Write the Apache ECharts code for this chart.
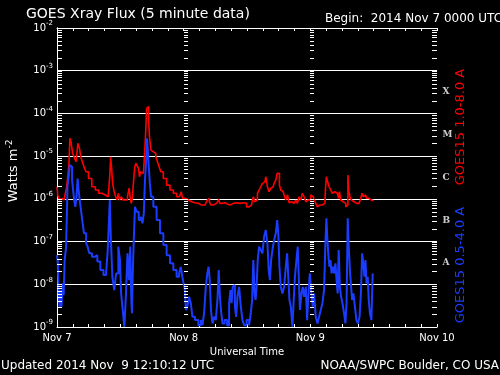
<!DOCTYPE html>
<html><head><meta charset="utf-8">
<script src="https://cdn.jsdelivr.net/npm/echarts@6/dist/echarts.min.js"></script>
<style>html,body{margin:0;padding:0;background:#000;}#c{width:500px;height:375px;}</style>
</head><body><div id="c"></div>
<script>
// Hours since 2014 Nov 7 00:00 UTC
const dayLabels = ['Nov 7', 'Nov 8', 'Nov 9', 'Nov 10'];

// GOES15 1.0-8.0 A (long channel), W/m^2
const redHours = [
  0,0.28,0.57,0.95,1.33,1.7,1.89,2.14,2.37,2.52,
  2.78,3.16,3.47,3.79,4.11,4.41,4.74,5.06,5.36,5.68,
  6.25,6.95,7.58,8.2,8.85,9.47,9.91,10.1,10.23,10.42,
  10.66,10.99,11.27,11.5,11.74,11.99,12.31,12.69,13.2,13.5,
  13.83,14.02,14.15,14.4,14.64,14.83,15.1,15.34,15.53,15.72,
  15.97,16.35,16.67,16.86,17.1,17.29,17.43,17.62,17.94,18.24,
  18.56,18.88,19.19,19.51,19.83,20.46,21.08,21.73,22.35,22.98,
  23.39,23.68,23.92,24.57,25.19,25.82,26.46,27.09,27.71,28.36,
  28.6,28.79,28.98,29.3,29.93,30.55,30.74,30.93,31.5,32.14,
  32.45,33.09,33.72,34.35,34.99,35.61,36.24,36.56,36.88,37.13,
  37.32,37.56,37.82,38.13,38.45,38.77,39.07,39.4,39.72,40.02,
  40.34,40.66,40.97,41.29,41.62,41.81,42.05,42.24,42.56,42.87,
  43.19,43.51,43.82,44.14,44.46,44.76,45.08,45.4,45.71,46.03,
  46.35,46.65,46.98,47.3,47.61,47.93,48.24,48.55,48.87,49.19,
  49.5,49.82,50.14,50.44,50.76,50.95,51.14,51.4,51.71,52.03,
  52.34,52.66,52.98,53.28,53.4,53.61,53.93,54.23,54.55,54.88,
  55.06,55.18,55.37,55.63,55.94,56.31,56.77,57.2,57.72,57.91,
  58.16,58.48,58.78,59.1,59.42,59.72,59.91,60.04
];
const redFlux = [
  1.92e-6,1.23e-6,9.4e-7,1.03e-6,9.4e-7,1.23e-6,1.79e-6,3.0e-6,6.2e-6,2.61e-5,
  2.17e-5,1.16e-5,8.9e-6,7.4e-6,2.0e-5,1.52e-5,8.9e-6,6.8e-6,5.2e-6,4.3e-6,
  3.0e-6,1.92e-6,1.61e-6,1.35e-6,1.23e-6,1.12e-6,1.03e-6,3.6e-6,9.7e-6,5.65e-6,
  2.3e-6,1.47e-6,1.12e-6,9.4e-7,1.35e-6,9.4e-7,1.12e-6,9.4e-7,9.4e-7,1.12e-6,
  1.79e-6,9.4e-7,7.85e-7,1.03e-6,2.75e-6,5.65e-6,6.8e-6,6.8e-6,5.2e-6,3.3e-6,
  4.3e-6,3.95e-6,7.4e-6,2.84e-5,1.32e-4,1.44e-4,7.0e-5,2.84e-5,1.39e-5,1.27e-5,
  1.16e-5,9.7e-6,7.4e-6,5.65e-6,4.3e-6,3.0e-6,2.1e-6,1.61e-6,1.35e-6,1.12e-6,
  1.23e-6,1.47e-6,1.03e-6,9.4e-7,8.55e-7,8.1e-7,7.85e-7,7.2e-7,7.2e-7,7.85e-7,
  9.4e-7,1.03e-6,8.55e-7,7.2e-7,7.85e-7,7.85e-7,9.7e-7,7.85e-7,8.1e-7,7.55e-7,
  7.2e-7,7.85e-7,8.1e-7,7.85e-7,8.1e-7,7.85e-7,6.5e-7,6.0e-7,7.2e-7,9.4e-7,
  1.12e-6,8.55e-7,9.4e-7,1.35e-6,1.61e-6,1.92e-6,2.3e-6,2.5e-6,3.3e-6,1.92e-6,
  1.47e-6,1.76e-6,1.92e-6,2.3e-6,2.75e-6,3.95e-6,3.95e-6,2.1e-6,1.61e-6,1.47e-6,
  1.23e-6,9.4e-7,1.23e-6,8.1e-7,8.55e-7,7.85e-7,7.85e-7,9.4e-7,7.85e-7,1.12e-6,
  9.4e-7,1.35e-6,1.12e-6,8.55e-7,9.4e-7,9.4e-7,1.23e-6,1.12e-6,9.4e-7,7.85e-7,
  6.5e-7,7.2e-7,7.2e-7,7.85e-7,7.85e-7,1.61e-6,3.3e-6,2.5e-6,1.92e-6,1.61e-6,
  1.35e-6,1.47e-6,1.35e-6,1.35e-6,1.03e-6,1.47e-6,9.4e-7,8.55e-7,7.85e-7,6.5e-7,
  7.2e-7,3.6e-6,1.61e-6,1.12e-6,9.4e-7,8.55e-7,7.85e-7,7.85e-7,9.4e-7,1.35e-6,
  1.12e-6,1.23e-6,1.03e-6,1.03e-6,9.4e-7,8.55e-7,8.55e-7,9.1e-7
];

// GOES15 0.5-4.0 A (short channel), W/m^2
const blueHours = [
  0,0.28,0.38,0.57,0.76,0.95,1.19,1.33,1.57,1.84,
  1.89,2.08,2.33,2.52,2.78,2.94,3.16,3.35,3.6,3.79,
  4.03,4.17,4.41,4.68,4.87,5.36,5.68,5.93,6.31,6.95,
  7.39,7.9,8.52,9.09,9.47,9.75,9.91,10.1,10.32,10.66,
  11.04,11.37,11.88,11.99,12.31,12.6,12.94,13.2,13.5,13.73,
  14.02,14.15,14.26,14.45,14.64,14.91,15.25,15.72,16.04,16.35,
  16.54,16.8,16.99,17.1,17.29,17.48,17.71,17.94,18.56,19.19,
  19.83,20.46,21.08,21.73,22.35,22.98,23.3,23.62,23.87,24.11,
  24.34,24.53,24.87,25.19,25.51,25.82,26.46,27.09,27.41,27.71,
  28.03,28.36,28.6,28.85,29.04,29.3,29.61,29.93,30.25,30.55,
  30.74,30.93,31.2,31.5,32.01,32.45,32.77,32.96,33.2,33.39,
  33.58,33.85,34.04,34.35,34.66,34.99,35.29,35.61,36.24,36.56,
  36.88,37.07,37.32,37.56,37.69,37.94,38.13,38.45,38.77,39.07,
  39.4,39.72,40.02,40.21,40.47,40.66,40.97,41.29,41.62,41.81,
  42.05,42.24,42.56,42.87,43.19,43.51,43.7,43.94,44.14,44.46,
  44.76,44.95,45.21,45.52,45.71,45.9,46.16,46.47,46.65,46.98,
  47.3,47.49,47.74,48.06,48.36,48.55,48.87,49.19,49.5,49.82,
  50.14,50.44,50.76,50.95,51.14,51.27,51.52,51.71,51.9,52.15,
  52.34,52.66,52.85,53.09,53.28,53.47,53.74,53.93,54.23,54.55,
  54.74,54.99,55.18,55.37,55.63,55.82,56.01,56.31,56.58,56.88,
  57.2,57.45,57.72,57.91,58.16,58.35,58.53,58.78,58.97,59.16,
  59.42,59.72,59.91
];
const blueFlux = [
  4.8e-8,3.3e-8,5.6e-9,3.0e-9,7.3e-9,3.0e-9,1.05e-8,5.6e-9,3.7e-8,6.9e-8,
  3.8e-7,1.92e-6,3.3e-6,6.2e-6,5.65e-6,2.75e-6,1.61e-6,9.4e-7,6.5e-7,1.12e-6,
  3.0e-6,1.61e-6,9.4e-7,5.5e-7,3.2e-7,1.56e-7,9.1e-8,7.6e-8,5.3e-8,4.4e-8,
  4.8e-8,3.4e-8,2.15e-8,1.64e-8,1.5e-8,6.3e-8,2.67e-7,9.4e-7,1.08e-7,1.5e-8,
  7.3e-9,1.8e-8,7.6e-8,3.7e-8,6.1e-9,2.5e-9,1.01e-9,6.1e-9,5.3e-8,1.25e-8,
  7.6e-8,4.3e-9,2.1e-9,1.8e-8,1.08e-7,6.5e-7,5.0e-7,3.2e-7,3.8e-7,2.67e-7,
  4.6e-7,2.75e-6,8.1e-6,2.61e-5,1.39e-5,5.65e-6,2.3e-6,1.12e-6,6.5e-7,3.2e-7,
  1.56e-7,8.3e-8,4.8e-8,3.1e-8,2.15e-8,1.5e-8,1.8e-8,2.57e-8,1.5e-8,1.05e-8,
  7.3e-9,2.5e-9,3.0e-9,5.1e-9,3.6e-9,1.73e-9,1.45e-9,1.1e-9,1.45e-9,1.1e-9,
  2.1e-9,8.7e-9,1.8e-8,2.57e-8,1.25e-8,2.5e-9,1.21e-9,1.73e-9,1.45e-9,4.3e-9,
  2.15e-8,6.1e-9,2.5e-9,1.21e-9,1.45e-9,1.1e-9,3.6e-9,7.3e-9,3.6e-9,8.7e-9,
  9.6e-9,3.0e-9,1.73e-9,5.1e-9,8.7e-9,3.0e-9,1.45e-9,1.1e-9,1.45e-9,1.1e-9,
  2.1e-9,4.3e-9,3.7e-8,6.1e-9,4.3e-9,8.7e-9,3.7e-8,7.6e-8,6.3e-8,5.3e-8,
  1.3e-7,1.86e-7,9.1e-8,2.15e-8,1.25e-8,3.7e-8,6.3e-8,1.08e-7,1.56e-7,3.2e-7,
  1.56e-7,2.57e-8,8.7e-9,6.1e-9,8.7e-9,2.57e-8,5.3e-8,1.5e-8,4.3e-9,3.0e-9,
  1.01e-9,4.3e-9,1.5e-8,3.7e-8,7.6e-8,1.5e-8,2.5e-9,6.1e-9,8.7e-9,5.1e-9,
  8.7e-9,1.45e-9,5.1e-9,1.8e-8,6.1e-9,3.0e-9,6.1e-9,1.73e-9,1.21e-9,1.73e-9,
  2.5e-9,3.6e-9,7.3e-9,9.1e-8,3.5e-7,1.3e-7,5.3e-8,2.57e-8,3.7e-8,1.8e-8,
  2.57e-8,1.8e-8,3.1e-8,1.25e-8,6.1e-9,6.3e-8,8.7e-9,5.1e-9,3.6e-9,2.1e-9,
  1.21e-9,3.6e-9,3.5e-7,7.6e-8,2.15e-8,8.7e-9,4.3e-9,6.1e-9,3.0e-9,1.45e-9,
  1.21e-9,1.73e-9,6.1e-9,5.3e-8,3.1e-8,1.5e-8,3.7e-8,1.05e-8,1.5e-8,4.3e-9,
  2.1e-9,1.45e-9,1.8e-8
];

// Flare classes and their flux bands (W/m^2)
const classLetters = ['A', 'B', 'C', 'M', 'X'];
const classLow  = [1e-8, 1e-7, 1e-6, 1e-5, 1e-4];
const classHigh = [1e-7, 1e-6, 1e-5, 1e-4, 1e-3];

// Axis decades (exponents)
const decadeMin = -9, decadeMax = -2;

const FONT = 'DejaVu Sans';
const WHITE = '#ffffff';
const RED = '#ff0000';
const BLUE = '#1a3cff';

const red = redHours.map((h, i) => [h, redFlux[i]]);
const blue = blueHours.map((h, i) => [h, blueFlux[i]]);

// minor/major log tick values for the tick columns
const tickVals = [];
for (let e = decadeMin; e < decadeMax; e++) {
  for (let m = 1; m <= 9; m++) tickVals.push([0, m * Math.pow(10, e)]);
}
tickVals.push([0, Math.pow(10, decadeMax)]);
const tickCols = [{x: 0, len: 5}, {x: 24, len: 4}, {x: 48, len: 4}, {x: 72, len: -5}];

const chart = echarts.init(document.getElementById('c'), null, {renderer: 'canvas'});

const classData = classLetters.map((l, i) => [72, Math.sqrt(classLow[i] * classHigh[i]), l]);

chart.setOption({
  backgroundColor: '#000',
  animation: false,
  title: {
    text: 'GOES Xray Flux (5 minute data)', left: 26, top: 7, padding: 0,
    textStyle: {color: WHITE, fontFamily: FONT, fontSize: 14, fontWeight: 'normal'}
  },
  grid: {left: 57, top: 28, width: 380, height: 299},
  xAxis: [{
    type: 'value', min: 0, max: 72, interval: 3, position: 'bottom',
    name: 'Universal Time', nameLocation: 'middle', nameGap: 18,
    nameTextStyle: {color: WHITE, fontFamily: FONT, fontSize: 10},
    axisLine: {show: true, lineStyle: {color: WHITE, width: 1}},
    axisTick: {show: true, inside: true, length: 3, lineStyle: {color: WHITE, width: 1}},
    axisLabel: {
      color: WHITE, fontFamily: FONT, fontSize: 10, margin: 6,
      showMinLabel: true, showMaxLabel: true,
      formatter: v => (v % 24 === 0 ? dayLabels[v / 24] : '')
    },
    splitLine: {show: false}
  }, {
    type: 'value', min: 0, max: 72, interval: 3, position: 'top',
    axisLine: {show: true, lineStyle: {color: WHITE, width: 1}},
    axisTick: {show: true, inside: true, length: 3, lineStyle: {color: WHITE, width: 1}},
    axisLabel: {show: false},
    splitLine: {show: false}
  }],
  yAxis: [{
    type: 'log', logBase: 10, min: Math.pow(10, decadeMin), max: Math.pow(10, decadeMax),
    splitNumber: 7, position: 'left',
    axisLine: {show: true, lineStyle: {color: WHITE, width: 1}},
    axisTick: {show: false},
    axisLabel: {
      color: WHITE, margin: 4, showMinLabel: true, showMaxLabel: true,
      formatter: v => '{a|10}{b|-' + Math.abs(Math.round(Math.log10(v))) + '}',
      rich: {
        a: {color: WHITE, fontFamily: FONT, fontSize: 10, lineHeight: 16},
        b: {color: WHITE, fontFamily: FONT, fontSize: 7, lineHeight: 8, verticalAlign: 'top'}
      }
    },
    splitLine: {show: true, lineStyle: {color: WHITE, width: 1}}
  }, {
    type: 'log', logBase: 10, min: Math.pow(10, decadeMin), max: Math.pow(10, decadeMax),
    splitNumber: 7, position: 'right',
    axisLine: {show: true, lineStyle: {color: WHITE, width: 1}},
    axisTick: {show: false}, axisLabel: {show: false}, splitLine: {show: false}
  }],
  series: [{
    name: 'GOES15 1.0-8.0 A', type: 'line', data: red, step: 'middle',
    showSymbol: false, symbol: 'none',
    lineStyle: {color: RED, width: 1.6}, z: 3
  }, {
    name: 'GOES15 0.5-4.0 A', type: 'line', data: blue, step: 'middle',
    showSymbol: false, symbol: 'none',
    lineStyle: {color: BLUE, width: 2}, z: 4
  }, {
    type: 'custom', data: tickVals, silent: true, z: 6, clip: false,
    encode: {x: 0, y: 1},
    renderItem: (params, api) => {
      const v = api.value(1);
      return {
        type: 'group',
        children: tickCols.map(c => {
          const p = api.coord([c.x, v]);
          const y = Math.round(p[1]) + 0.5;
          const x = Math.round(p[0]);
          return {type: 'line', shape: {x1: x, y1: y, x2: x + c.len, y2: y},
                  style: {stroke: WHITE, lineWidth: 1}};
        })
      };
    }
  }, {
    type: 'scatter', data: classData, symbolSize: 1, clip: false, silent: true,
    itemStyle: {color: 'rgba(0,0,0,0)'},
    label: {
      show: true, position: 'right', distance: 5,
      formatter: p => p.data[2],
      color: WHITE, fontFamily: 'DejaVu Serif', fontWeight: 'bold', fontSize: 9
    }
  }],
  graphic: [
    {type: 'text', x: 325, y: 19, silent: true,
     style: {text: 'Begin:  2014 Nov 7 0000 UTC', fill: WHITE, font: '12px "DejaVu Sans"', align: 'left', verticalAlign: 'middle'}},
    {type: 'text', x: 1, y: 366, silent: true,
     style: {text: 'Updated 2014 Nov  9 12:10:12 UTC', fill: WHITE, font: '12px "DejaVu Sans"', align: 'left', verticalAlign: 'middle'}},
    {type: 'text', x: 499, y: 366, silent: true,
     style: {text: 'NOAA/SWPC Boulder, CO USA', fill: WHITE, font: '12px "DejaVu Sans"', align: 'right', verticalAlign: 'middle'}},
    {type: 'text', x: 461, y: 127, rotation: Math.PI / 2, silent: true,
     style: {text: 'GOES15 1.0-8.0 A', fill: RED, font: '13px "DejaVu Sans"', align: 'center', verticalAlign: 'middle'}},
    {type: 'text', x: 461, y: 265, rotation: Math.PI / 2, silent: true,
     style: {text: 'GOES15 0.5-4.0 A', fill: BLUE, font: '13px "DejaVu Sans"', align: 'center', verticalAlign: 'middle'}},
    {type: 'text', x: 14, y: 171, rotation: Math.PI / 2, silent: true,
     style: {text: '{a|Watts m}{b|-2}', align: 'center', verticalAlign: 'middle',
             rich: {a: {fill: WHITE, fontFamily: FONT, fontSize: 13, lineHeight: 18},
                    b: {fill: WHITE, fontFamily: FONT, fontSize: 9, lineHeight: 10, verticalAlign: 'top'}}}}
  ]
});
</script>
</body></html>
